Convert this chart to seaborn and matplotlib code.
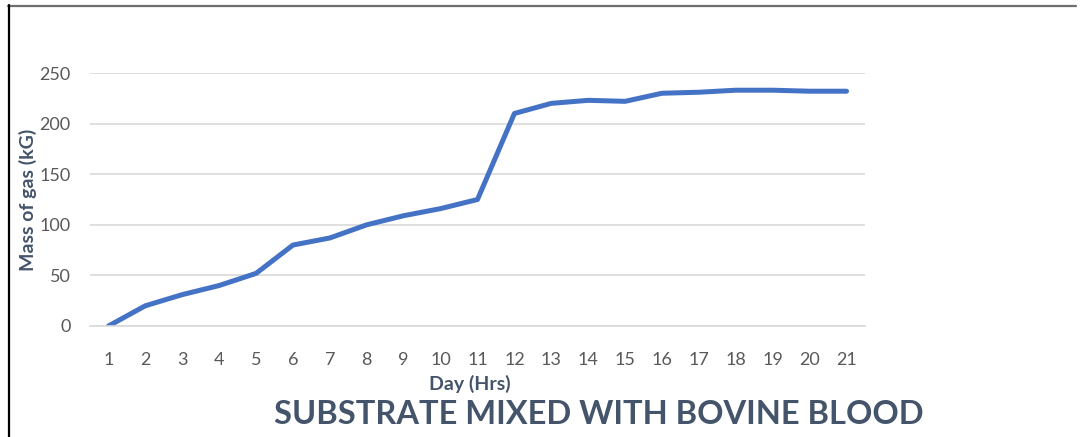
import numpy as np
import pandas as pd
import matplotlib
matplotlib.use("Agg")
import matplotlib.pyplot as plt
from matplotlib.lines import Line2D
import seaborn as sns

# data
days = [str(d) for d in range(1, 22)]
mass_of_gas = [0, 20, 31, 40, 52, 80, 87, 100, 109, 116, 125,
               210, 220, 223, 222, 230, 231, 233, 233, 232, 232]
y_ticks = [0, 50, 100, 150, 200, 250]

sns.set_style("white")
plt.rcParams['font.family'] = ['Lato', 'DejaVu Sans']

df = pd.DataFrame({"day": days, "mass": mass_of_gas})

fig = plt.figure(figsize=(10.83, 4.37), dpi=100)
ax = fig.add_axes([90 / 1083, 1 - 326 / 437, (865 - 90) / 1083, (326 - 73) / 437])

sns.lineplot(data=df, x="day", y="mass", ax=ax, color="#4472C4",
             linewidth=3.6, sort=False, solid_capstyle="round")

ax.set_ylim(0, 250)
ax.set_xlim(-0.5, len(days) - 0.5)
ax.set_yticks(y_ticks)
ax.yaxis.grid(True, color="#D9D9D9", linewidth=1.2)
ax.set_axisbelow(True)

for side in ["top", "right", "left"]:
    ax.spines[side].set_visible(False)
ax.spines["bottom"].set_color("#D9D9D9")
ax.spines["bottom"].set_linewidth(1.2)

# category boundary ticks on x, labels centred on categories
ax.set_xticks(np.arange(-0.5, len(days), 1.0), minor=True)
ax.tick_params(axis="x", which="minor", length=6, color="#D9D9D9", width=1.2)
ax.tick_params(axis="x", which="major", length=0, pad=19, labelsize=13,
               labelcolor="#595959")
ax.tick_params(axis="y", length=0, pad=14, labelsize=13, labelcolor="#595959")

ax.set_xlabel("Day (Hrs)", fontsize=14, fontweight="bold", color="#44546A")
ax.set_ylabel("Mass of gas (kG)", fontsize=14, fontweight="bold", color="#44546A")
ax.xaxis.set_label_coords(0.49, -0.195)
ax.yaxis.set_label_coords(-0.068, 0.5)

fig.text(599 / 1083, 1 - 414 / 437, "SUBSTRATE MIXED WITH BOVINE BLOOD",
         ha="center", va="center", fontsize=23.5, fontweight="bold", color="#44546A")

# frame lines of the original screenshot
fig.add_artist(Line2D([8 / 1083, 1076 / 1083], [1 - 5.5 / 437, 1 - 5.5 / 437],
                      transform=fig.transFigure, color="#6E6E6E", linewidth=1.6))
fig.add_artist(Line2D([8.5 / 1083, 8.5 / 1083], [0, 1 - 5 / 437],
                      transform=fig.transFigure, color="black", linewidth=1.6))

fig.savefig("out.png", dpi=100)
